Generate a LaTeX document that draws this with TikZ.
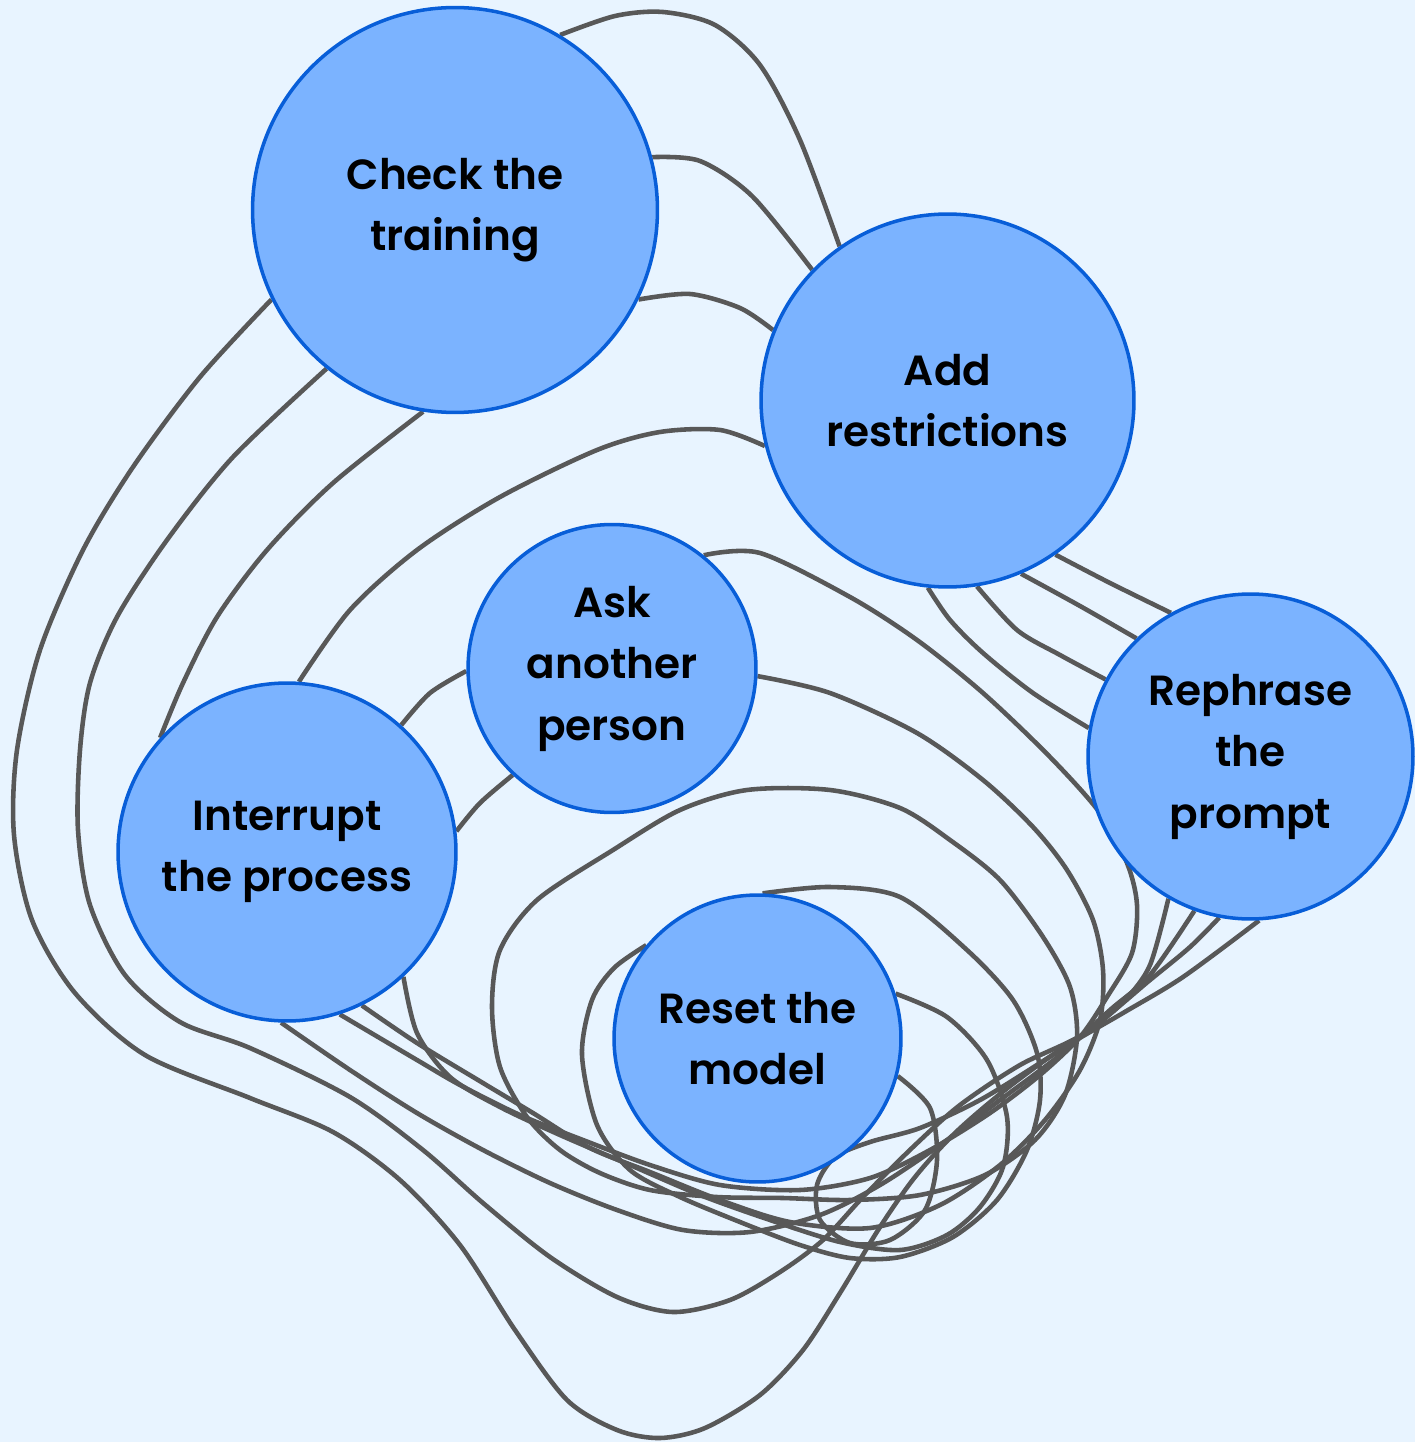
\documentclass[tikz,border=0pt]{standalone}
\usepackage{fontspec}
\newfontfamily\popmed{Poppins SemiBold}
\definecolor{bgc}{RGB}{232,244,255}
\definecolor{nodefill}{RGB}{123,179,255}
\definecolor{nodeline}{RGB}{8,94,216}
\definecolor{edgec}{RGB}{88,88,88}
\pgfdeclarelayer{bglayer}
\pgfdeclarelayer{edgelayer}
\pgfsetlayers{bglayer,edgelayer,main}
\tikzset{
  bubble/.style={circle, draw=nodeline, fill=nodefill, line width=2pt, inner sep=0pt,
    align=center, text=black, font=\popmed\fontsize{24}{35}\selectfont},
  edge/.style={draw=edgec, line width=2.6pt},
}
\begin{document}
\begin{tikzpicture}[x=0.02cm,y=-0.02cm]
\useasboundingbox (0,0) rectangle (1415,1442);
\begin{pgfonlayer}{bglayer}
\fill[bgc] (0,0) rectangle (1415,1442);
\end{pgfonlayer}
\node[bubble, minimum size=8.1cm] (C) at (455,210) {Check the\\training};
\node[bubble, minimum size=7.46cm] (A) at (947.5,400.5) {Add\\restrictions};
\node[bubble, minimum size=6.5cm] (R) at (1250.5,756.5) {Rephrase\\the\\prompt};
\node[bubble, minimum size=5.76cm] (K) at (612,668.5) {Ask\\another\\person};
\node[bubble, minimum size=6.76cm] (I) at (287,852) {Interrupt\\the process};
\node[bubble, minimum size=5.74cm] (M) at (757.5,1038.5) {Reset the\\model};
\begin{pgfonlayer}{edgelayer}
% Check the training -- Add restrictions
\draw[edge] plot[smooth] coordinates {(C.59) (615,16) (663,12) (715,25) (760,65) (800,140) (A.125)};
\draw[edge] plot[smooth] coordinates {(C.15) (700,161) (752,196) (A.136)};
\draw[edge] plot[smooth] coordinates {(C.-26) (690,294) (740,308) (A.158)};
% Add restrictions -- Interrupt
\draw[edge] plot[smooth] coordinates {(A.194) (720,430) (660,432) (597,450) (500,497) (417,550) (350,610) (I.86)};
% Check -- Interrupt
\draw[edge] plot[smooth] coordinates {(C.-99) (333,483) (267,550) (217,617) (183,683) (I.138)};
% Ask -- Interrupt
\draw[edge] plot[smooth] coordinates {(K.181) (430,693) (I.48)};
\draw[edge] plot[smooth] coordinates {(K.-133) (480,803) (I.7)};
% Add restrictions -- Rephrase
\draw[edge] plot[smooth] coordinates {(A.-55) (1110,583) (R.119)};
\draw[edge] plot[smooth] coordinates {(A.-67) (1080,606) (R.134)};
\draw[edge] plot[smooth] coordinates {(A.-81) (1017,630) (1060,655) (R.152)};
\draw[edge] plot[smooth] coordinates {(A.-96) (950,620) (983,653) (1033,693) (R.170)};
% Check -- Rephrase (outer sweeps)
\draw[edge] plot[smooth] coordinates {(C.-154) (200,377) (133,467) (83,550) (40,650) (17,750) (14,835) (32,920) (75,993) (145,1055) (250,1098) (333,1132) (400,1180) (460,1245) (515,1330) (567,1400) (617,1430) (660,1438) (705,1428) (760,1395) (803,1350) (840,1293) (880,1227) (915,1177) (955,1133) (1005,1090) (1060,1050) (1123,1013) (1183,977) (R.-87)};
\draw[edge] plot[smooth] coordinates {(C.-129) (233,457) (167,540) (117,617) (90,683) (80,750) (78,830) (90,905) (125,975) (180,1022) (250,1048) (350,1097) (423,1150) (483,1203) (550,1257) (617,1297) (673,1312) (730,1300) (780,1272) (823,1240) (863,1197) (913,1147) (960,1105) (1020,1065) (1085,1033) (1150,980) (1190,947) (R.-101)};
% Interrupt -- Rephrase
\draw[edge] plot[smooth] coordinates {(I.-92) (350,1070) (417,1113) (483,1150) (550,1183) (617,1210) (683,1230) (750,1232) (820,1215) (880,1185) (940,1145) (1000,1100) (1060,1055) (1110,1010) (1150,975) (R.-110)};
% Ask -- Interrupt (wide arcs)
\draw[edge] plot[smooth] coordinates {(K.51) (760,553) (850,597) (917,640) (983,693) (1050,757) (1100,813) (1127,863) (1137,905) (1132,953) (1107,997) (1080,1037) (1040,1075) (990,1113) (930,1150) (870,1178) (800,1190) (720,1185) (650,1165) (583,1140) (520,1115) (460,1085) (417,1060) (I.-72)};
\draw[edge] plot[smooth] coordinates {(K.-3) (830,693) (917,733) (983,780) (1033,827) (1067,870) (1093,920) (1103,970) (1100,1020) (1080,1070) (1045,1120) (1000,1165) (940,1205) (870,1228) (790,1222) (720,1200) (650,1172) (590,1148) (533,1113) (483,1083) (417,1043) (I.-64)};
% Interrupt -- Reset
\draw[edge] plot[smooth] coordinates {(I.-47) (417,1033) (450,1077) (500,1107) (560,1135) (630,1165) (700,1195) (770,1220) (840,1242) (900,1250) (947,1235) (980,1207) (1003,1167) (1007,1117) (987,1060) (947,1017) (M.18)};
% Reset loops
\draw[edge] plot[smooth] coordinates {(M.88) (830,887) (900,897) (967,950) (1013,1000) (1037,1053) (1040,1100) (1027,1150) (997,1200) (953,1237) (900,1257) (850,1258) (800,1245) (740,1222) (680,1197) (630,1170) (597,1125) (582,1055) (592,1000) (614,968) (M.140)};
\draw[edge] plot[smooth cycle] coordinates {(537,900) (613,850) (680,810) (747,790) (830,790) (900,808) (950,840) (1000,880) (1043,937) (1070,987) (1077,1037) (1065,1095) (1035,1140) (985,1175) (920,1195) (850,1200) (783,1198) (717,1197) (650,1190) (600,1173) (560,1150) (527,1117) (500,1067) (492,1007) (500,950)};
% Reset -- Rephrase
\draw[edge] plot[smooth] coordinates {(M.-15) (930,1108) (937,1160) (925,1210) (890,1240) (850,1243) (820,1220) (817,1185) (835,1157) (870,1142) (920,1128) (980,1100) (1040,1063) (1090,1030) (1125,1000) (1150,965) (R.-120)};
\end{pgfonlayer}
\end{tikzpicture}
\end{document}
